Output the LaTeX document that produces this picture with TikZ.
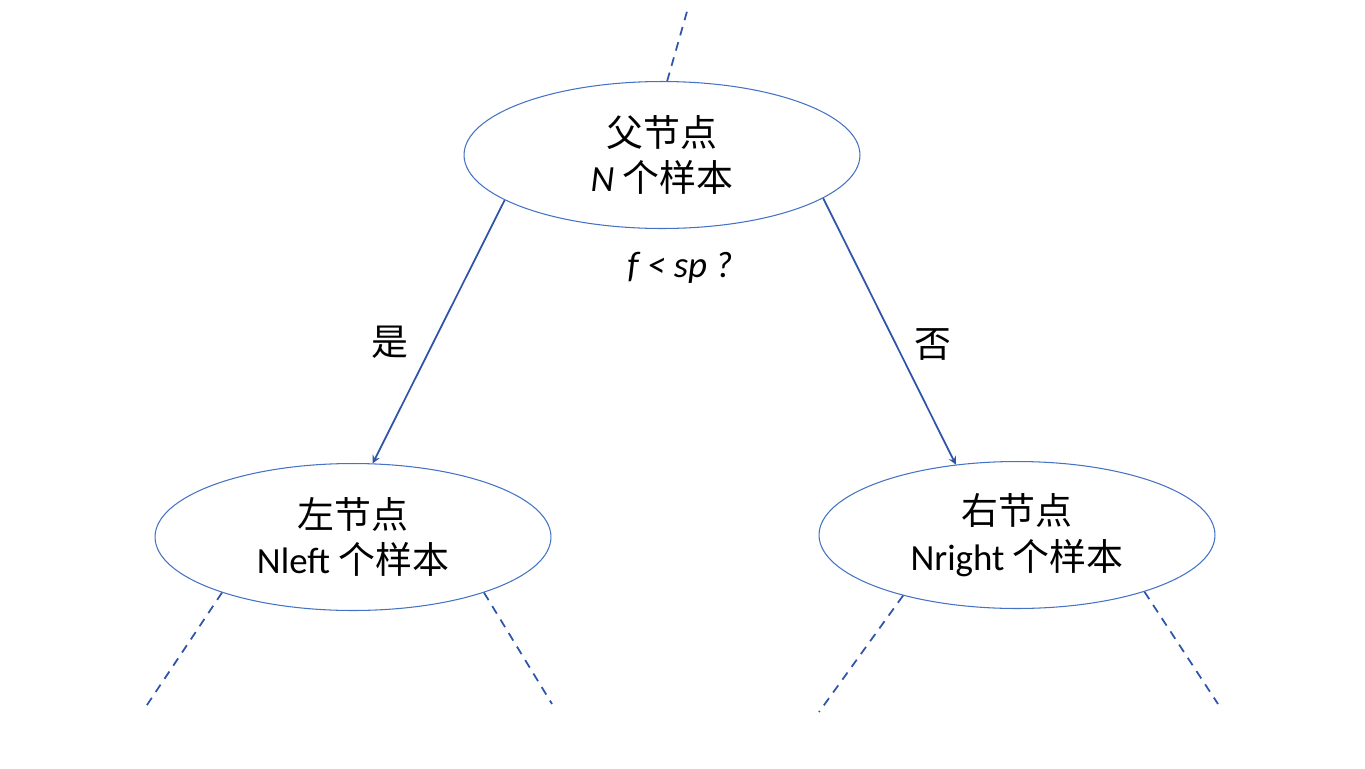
\documentclass[tikz,border=0pt]{standalone}
\usepackage{fontspec}
\setmainfont{Carlito}
\newfontfamily\cjk{Noto Sans CJK SC}
\usetikzlibrary{shapes.geometric}
\definecolor{bordbleu}{RGB}{68,114,196}
\definecolor{flechebleu}{RGB}{47,85,170}
\tikzstyle{noeud}=[ellipse, draw=bordbleu, line width=0.6pt, minimum width=7.92cm, minimum height=2.94cm, inner sep=0, align=center, font=\fontsize{21}{26}\selectfont]
\tikzstyle{fleche}=[flechebleu, line width=1pt, ->, >=stealth]
\tikzstyle{pointille}=[flechebleu, line width=1pt, dashed, dash pattern=on 5pt off 4pt]
\tikzstyle{etiquette}=[font=\fontsize{21}{26}\selectfont]
\begin{document}
\begin{tikzpicture}[x=0.02cm,y=-0.02cm]
\useasboundingbox (0,0) rectangle (1365,768);

\node[noeud] (pere) at (662,155) {\cjk 父节点\\\textit{N} \cjk 个样本};
\node[noeud] (gauche) at (353,537) {\cjk 左节点\\Nleft \cjk 个样本};
\node[noeud] (droite) at (1017,535) {\cjk 右节点\\Nright \cjk 个样本};

\draw[fleche] (pere.196) -- (gauche.75);
\draw[fleche] (pere.345) -- (droite.131);

\node[etiquette] (test) at (680,268) {\textit{f < sp ?}};
\node[etiquette] (oui) at (390,342) {\cjk 是};
\node[etiquette] (non) at (933,345) {\cjk 否};

%branches
\coordinate (haut) at (688,8);
\coordinate (g1) at (145,708);
\coordinate (g2) at (552,704);
\coordinate (d1) at (819,712);
\coordinate (d2) at (1218,704);
\draw[pointille] (pere.86) -- (haut);
\draw[pointille] (gauche.203) -- (g1);
\draw[pointille] (gauche.337) -- (g2);
\draw[pointille] (droite.208) -- (d1);
\draw[pointille] (droite.336) -- (d2);
\end{tikzpicture}
\end{document}
